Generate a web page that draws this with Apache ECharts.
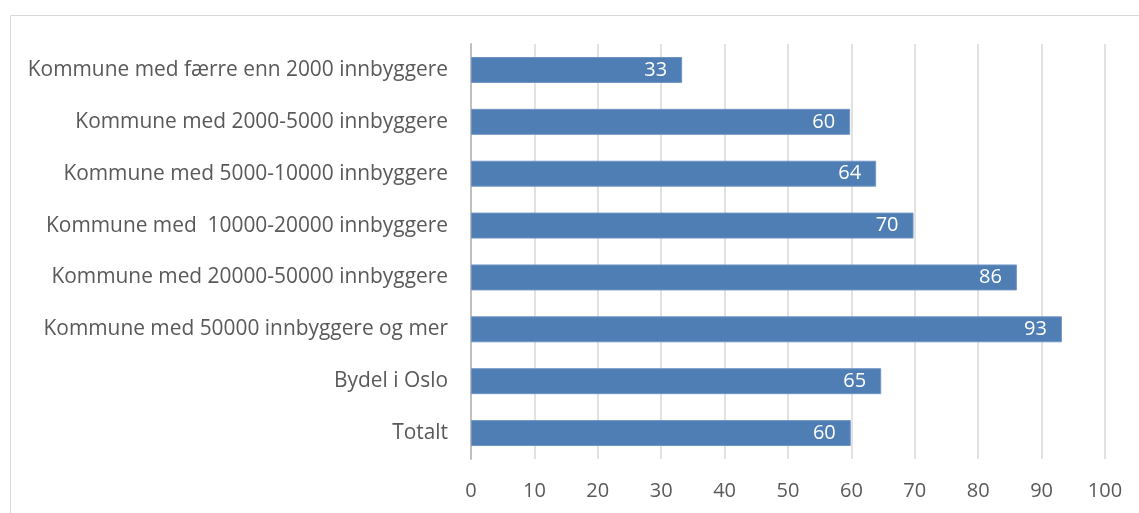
<!DOCTYPE html>
<html>
<head>
<meta charset="utf-8">
<title>echarts</title>
<script src="https://cdn.jsdelivr.net/npm/echarts@6/dist/echarts.min.js"></script>
<style>
  html, body { margin: 0; padding: 0; width: 100%; height: 100%; overflow: hidden; background: #fff; }
  #main { width: 1139px; height: 513px; }
</style>
</head>
<body>
<div id="main"></div>
<script>
// kategorier fra topp til bunn
var categories = [
  'Kommune med færre enn 2000 innbyggere',
  'Kommune med 2000-5000 innbyggere',
  'Kommune med 5000-10000 innbyggere',
  'Kommune med  10000-20000 innbyggere',
  'Kommune med 20000-50000 innbyggere',
  'Kommune med 50000 innbyggere og mer',
  'Bydel i Oslo',
  'Totalt'
];
var values = [33.3, 59.8, 63.9, 69.8, 86.1, 93.2, 64.7, 59.9];
var labels = [33, 60, 64, 70, 86, 93, 65, 60];

var font = '"Open Sans", "Noto Sans", sans-serif';
var chart = echarts.init(document.getElementById('main'));
chart.setOption({
  animation: false,
  graphic: [{
    type: 'rect',
    shape: { x: 10.5, y: 15.5, width: 1140, height: 520 },
    style: { fill: 'none', stroke: '#d9d9d9', lineWidth: 1 },
    silent: true
  }],
  grid: { left: 471, right: 34, top: 44, bottom: 54 },
  xAxis: {
    type: 'value', min: 0, max: 100, interval: 10,
    axisLine: { show: false },
    axisTick: { show: false },
    splitLine: { lineStyle: { color: '#d9d9d9', width: 1.5 } },
    axisLabel: { color: '#595959', fontFamily: font, fontSize: 20, margin: 22 }
  },
  yAxis: {
    type: 'category',
    inverse: true,
    data: categories,
    axisLine: { lineStyle: { color: '#bfbfbf', width: 2 } },
    axisTick: { show: false },
    axisLabel: { color: '#595959', fontFamily: font, fontSize: 20.9, margin: 23 }
  },
  series: [{
    type: 'bar',
    data: values,
    barWidth: '50%',
    itemStyle: { color: '#4f7eb5', borderColor: '#6f95c4', borderWidth: 1 },
    label: {
      show: true, position: 'insideRight', distance: 15,
      color: '#fff', fontFamily: font, fontSize: 20,
      formatter: function (p) { return labels[p.dataIndex]; }
    }
  }]
});
</script>
</body>
</html>
